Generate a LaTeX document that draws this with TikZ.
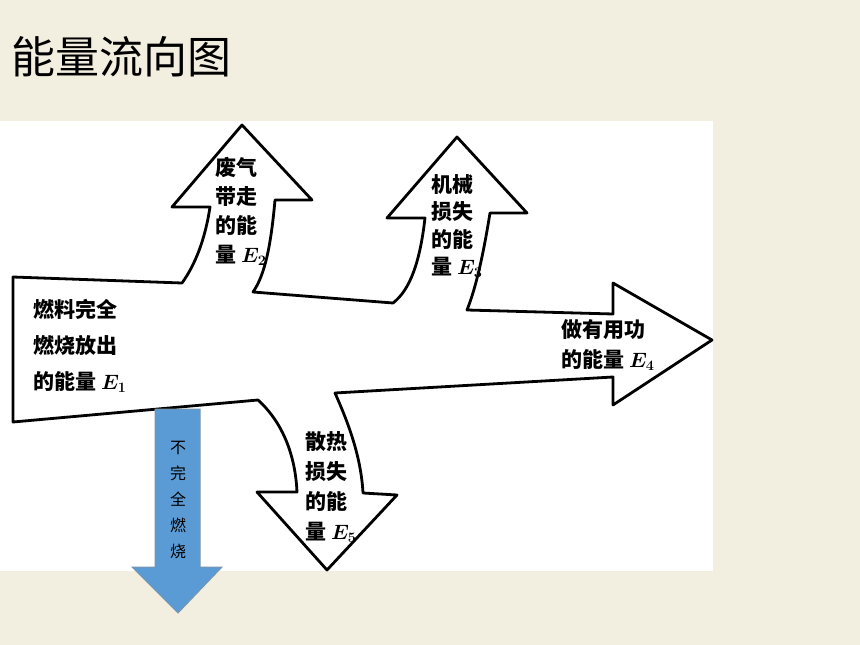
\documentclass[tikz,border=0pt]{standalone}
\usepackage{fontspec}
\newfontfamily\cjk{Noto Sans CJK SC}
\definecolor{bgcream}{RGB}{243,239,224}
\definecolor{arrowblue}{RGB}{91,155,213}
\definecolor{arrowedge}{RGB}{120,150,172}
\tikzset{
  flowline/.style={draw=black,line width=2.8pt,line join=round,fill=white},
  lbl/.style={inner sep=0pt,align=left,anchor=west,text=black,font=\cjk\bfseries\boldmath\fontsize{21}{29}\selectfont},
}
\begin{document}
\begin{tikzpicture}[x=1pt,y=-1pt]
\useasboundingbox (0,0) rectangle (860,645);
\fill[bgcream] (0,0) rectangle (860,645);
\fill[white] (0,121) rectangle (713,571);
% title
\node[anchor=west,inner sep=0pt,font=\cjk\fontsize{44}{44}\selectfont] (title) at (11,57) {能量流向图};
% energy flow outline
\path[flowline] (13,277) -- (182,283)
  .. controls (195,265) and (205,240) .. (210,207)
  -- (172,207) -- (242,125) -- (312,200) -- (275,200)
  .. controls (271,245) and (265,275) .. (253,292)
  -- (393,303)
  .. controls (410,290) and (420,262) .. (425,218)
  -- (387,218) -- (457,137) -- (527,213) -- (490,213)
  .. controls (484,250) and (477,285) .. (467,310)
  -- (613,314) -- (613,283) -- (712,340) -- (613,405) -- (613,377)
  -- (335,393)
  .. controls (347,420) and (361,455) .. (363,493)
  -- (397,495) -- (327,570) -- (257,492) -- (297,492)
  .. controls (295,448) and (278,418) .. (258,400)
  -- (13,422) -- cycle;
% labels
\node[lbl,font=\cjk\bfseries\boldmath\fontsize{21}{36}\selectfont] (e1) at (33,346) {燃料完全\\燃烧放出\\的能量 $E_1$};
\node[lbl] (e2) at (215,211) {废气\\带走\\的能\\量 $E_2$};
\node[lbl,font=\cjk\bfseries\boldmath\fontsize{21}{27.5}\selectfont] (e3) at (431,226) {机械\\损失\\的能\\量 $E_3$};
\node[lbl,font=\cjk\bfseries\boldmath\fontsize{21}{30}\selectfont] (e4) at (561,345) {做有用功\\的能量 $E_4$};
\node[lbl,font=\cjk\bfseries\boldmath\fontsize{21}{30}\selectfont] (e5) at (305,487) {散热\\损失\\的能\\量 $E_5$};
% blue arrow
\path[fill=arrowblue,draw=arrowedge,line width=1pt] (155,409) -- (200,409) -- (200,567) -- (222,567) -- (178,613) -- (132,567) -- (155,567) -- cycle;
\node[inner sep=0pt,align=center,font=\cjk\fontsize{16}{26}\selectfont] (incomplete) at (178,500) {不\\完\\全\\燃\\烧};
\end{tikzpicture}
\end{document}
